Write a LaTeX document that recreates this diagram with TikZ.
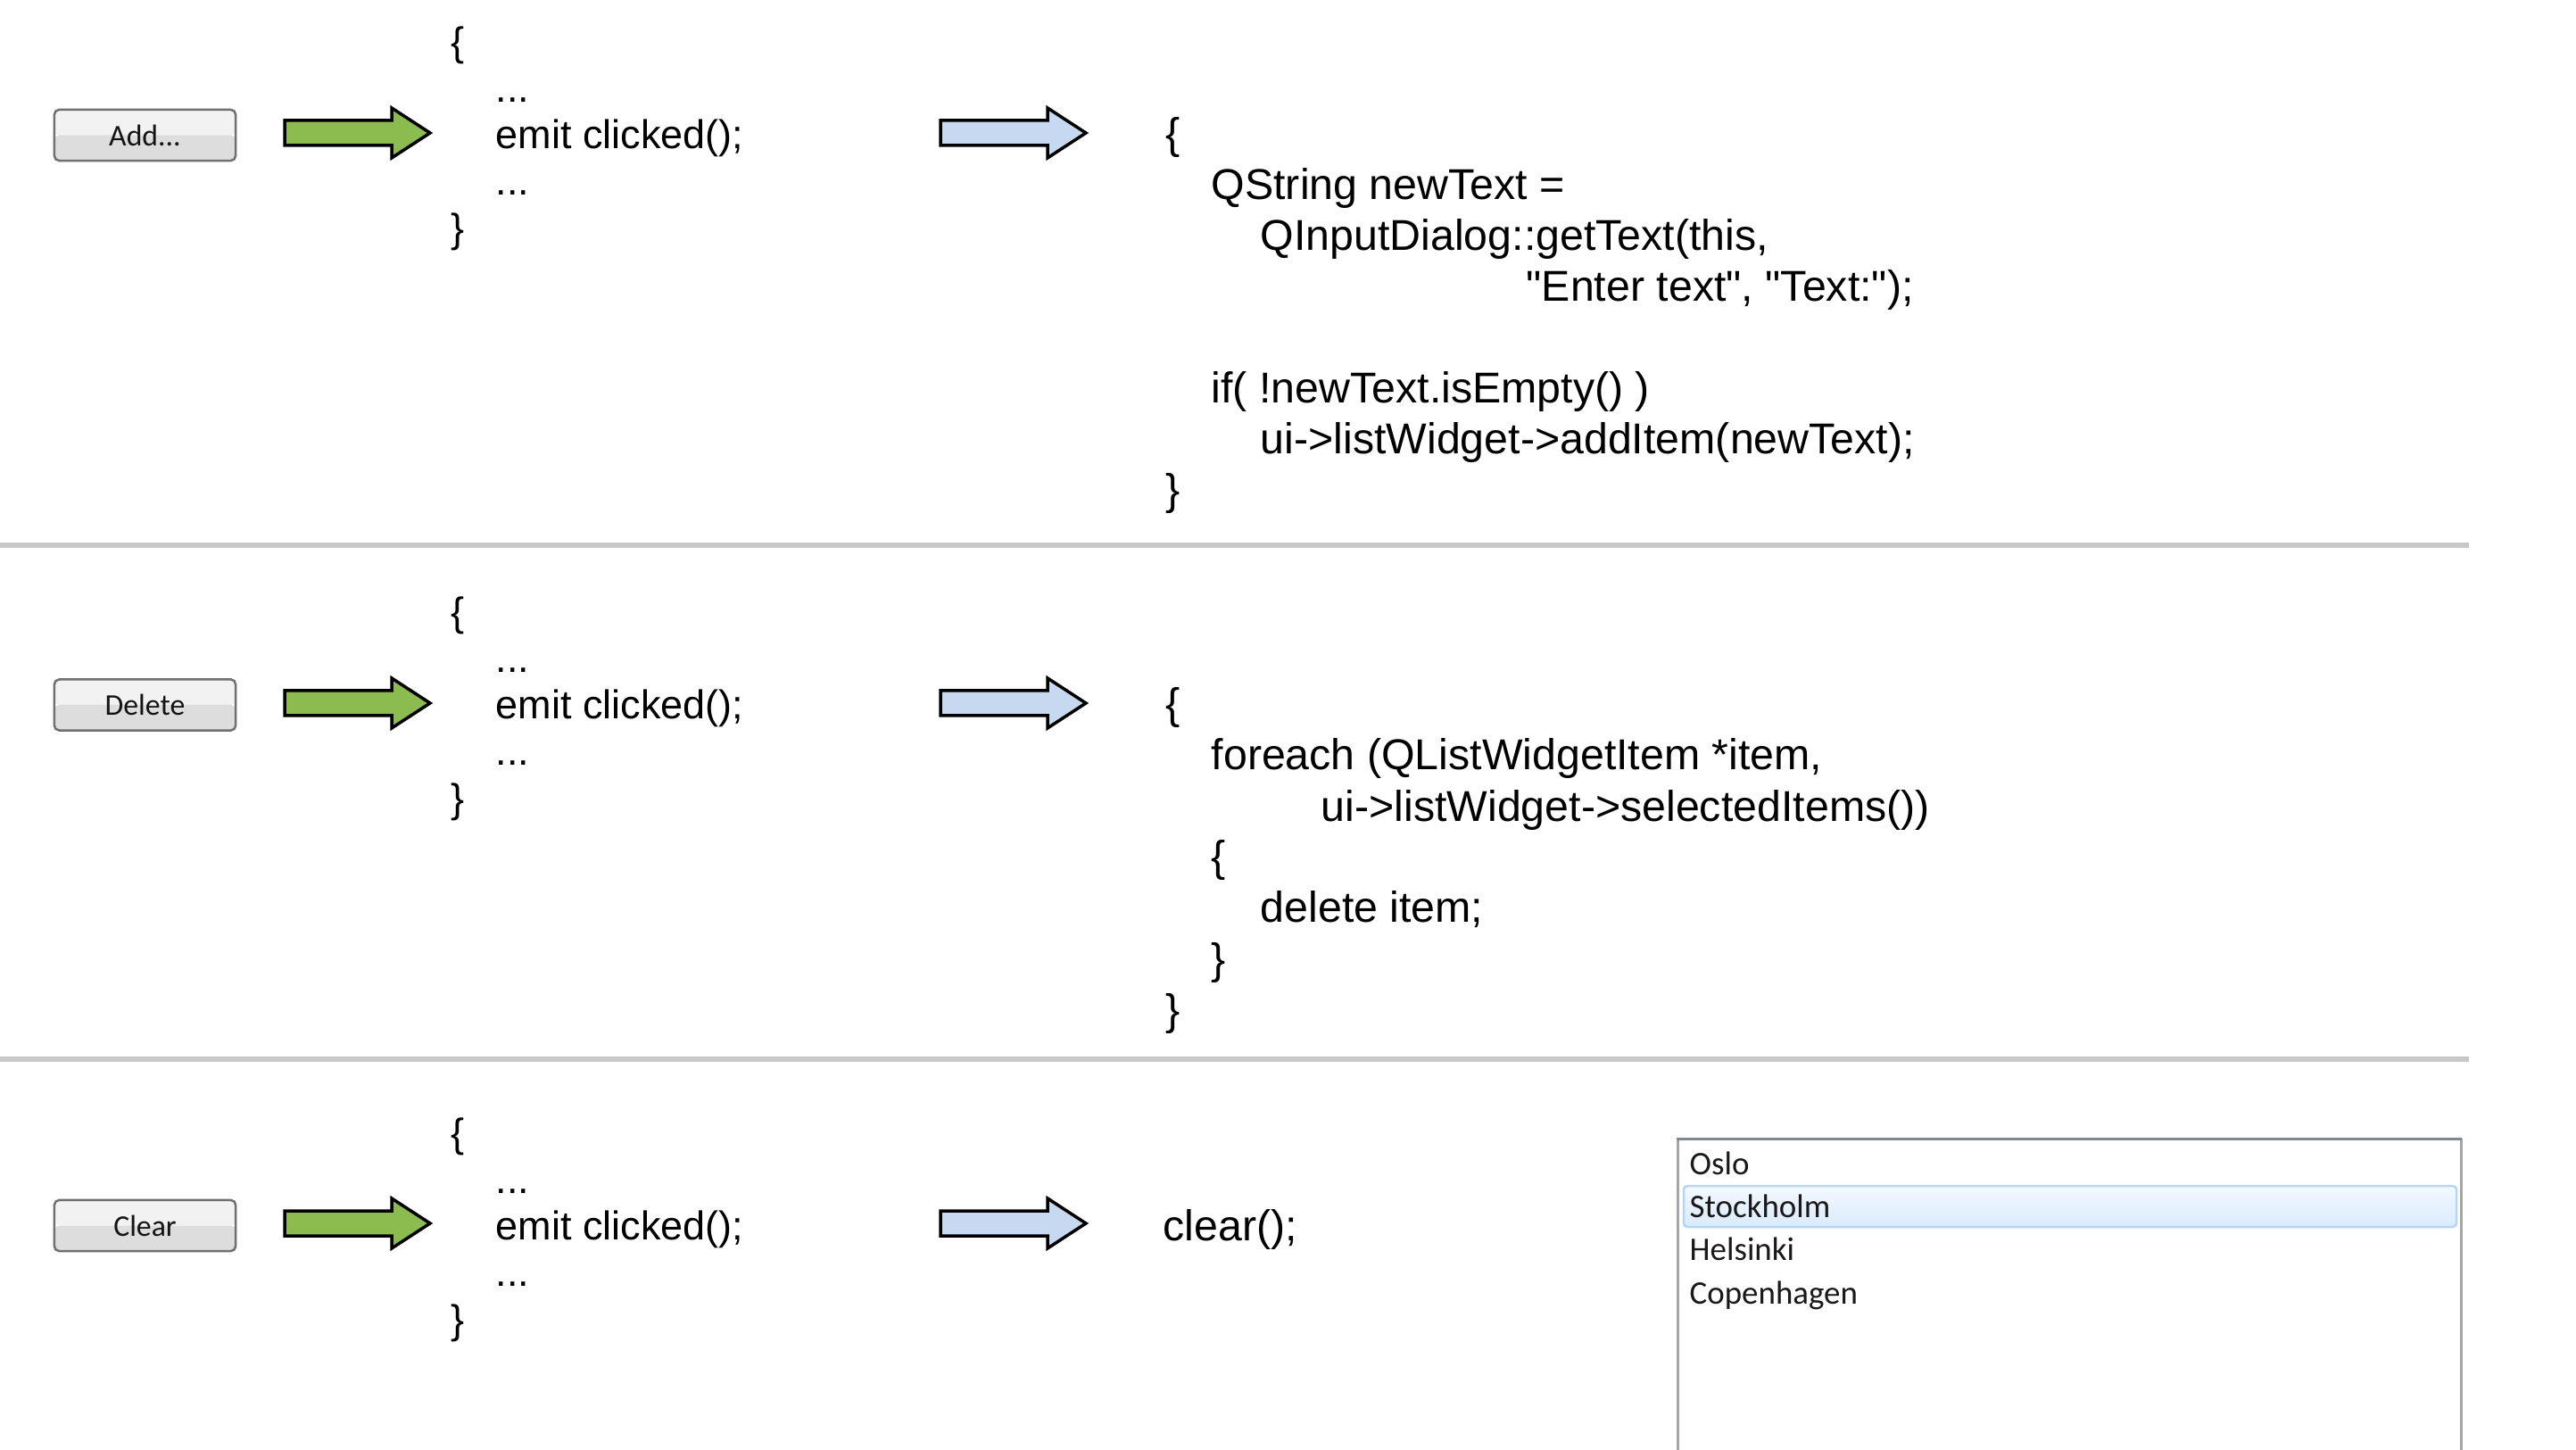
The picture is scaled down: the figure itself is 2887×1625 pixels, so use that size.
\documentclass[tikz,border=0pt]{standalone}
\usepackage{fontspec}
\setmainfont{Liberation Sans}
\newfontfamily\uifont{Carlito}
\definecolor{arrgreen}{RGB}{140,187,80}
\definecolor{arrblue}{RGB}{198,217,241}
\definecolor{btnborder}{RGB}{112,112,112}
\definecolor{btntop}{RGB}{242,242,242}
\definecolor{btnbot}{RGB}{221,221,221}
\definecolor{sepgray}{RGB}{200,200,200}
\definecolor{listtop}{RGB}{130,135,144}
\definecolor{listside}{RGB}{165,165,165}
\definecolor{selborder}{RGB}{180,215,245}
\definecolor{seltop}{RGB}{243,249,255}
\definecolor{selbot}{RGB}{218,234,252}
\newcommand\blockarrow[3]{%
  \draw[arrowline,fill=#3] (#1,#2-14) -- (#1+120,#2-14) -- (#1+120,#2-28)
    -- (#1+163,#2) -- (#1+120,#2+28) -- (#1+120,#2+14) -- (#1,#2+14) -- cycle;}
\newcommand\emitblock[3]{% name prefix, x, first baseline
  \node[codeL] (#1b1) at (#2,#3) {\{};
  \node[codeL] (#1d1) at (#2+50,#3+52) {...};
  \node[codeL] (#1em) at (#2+50,#3+104) {emit clicked();};
  \node[codeL] (#1d2) at (#2+50,#3+156) {...};
  \node[codeL] (#1b2) at (#2,#3+209) {\}};}
\newcommand\dq{\textquotedbl}
\begin{document}
\begin{tikzpicture}[x=0.01cm,y=-0.01cm,
  codeL/.style={anchor=base west,inner sep=0pt,font=\fontsize{12.8}{14.8}\selectfont},
  codeR/.style={anchor=base west,inner sep=0pt,font=\fontsize{13.74}{16}\selectfont},
  arrowline/.style={draw=black,line width=0.035cm,line join=miter},
  btn/.style={draw=btnborder,line width=0.025cm,rounded corners=1.5pt,
    minimum width=2.03cm,minimum height=0.57cm,inner sep=0pt,
    font=\uifont\fontsize{9.6}{11}\selectfont,text=black!92,
    path picture={\fill[btntop] (path picture bounding box.north west) rectangle (path picture bounding box.east);
      \fill[btnbot] (path picture bounding box.west) rectangle (path picture bounding box.south east);}},
  sep/.style={draw=sepgray,line width=0.06cm},
  listitem/.style={anchor=base west,inner sep=0pt,font=\uifont\fontsize{10.5}{12}\selectfont,text=black!90}]
\fill[white] (0,0) rectangle (2887,1625);
\useasboundingbox (0,0) rectangle (2887,1625);

% separators
\coordinate (s1a) at (0,611); \coordinate (s1b) at (2767,611);
\coordinate (s2a) at (0,1187); \coordinate (s2b) at (2767,1187);
\draw[sep] (s1a) -- (s1b);
\draw[sep] (s2a) -- (s2b);

% buttons
\node[btn] (add) at (162.5,151.5) {Add...};
\node[btn] (del) at (162.5,790) {Delete};
\node[btn] (clr) at (162.5,1373.5) {Clear};

% arrows
\blockarrow{319}{149}{arrgreen}
\blockarrow{319}{788}{arrgreen}
\blockarrow{319}{1371}{arrgreen}
\blockarrow{1054}{149}{arrblue}
\blockarrow{1054}{788}{arrblue}
\blockarrow{1054}{1371}{arrblue}

% left code blocks
\emitblock{a}{505}{63}
\emitblock{d}{505}{702}
\emitblock{c}{505}{1285}

% right code: section 1
\node[codeR] (r1a) at (1306,167) {\{};
\node[codeR] (r1b) at (1357,224) {QString newText =};
\node[codeR] (r1c) at (1412,281) {QInputDialog::getText(this,};
\node[codeR] (r1d) at (1710,338) {\dq Enter text\dq, \dq Text:\dq);};
\node[codeR] (r1e) at (1357,452) {if( !newText.isEmpty() )};
\node[codeR] (r1f) at (1412,509) {ui->listWidget->addItem(newText);};
\node[codeR] (r1g) at (1306,566) {\}};

% right code: section 2
\node[codeR] (r2a) at (1306,806) {\{};
\node[codeR] (r2b) at (1357,863) {foreach (QListWidgetItem *item,};
\node[codeR] (r2c) at (1480,920) {ui->listWidget->selectedItems())};
\node[codeR] (r2d) at (1357,977) {\{};
\node[codeR] (r2e) at (1412,1034) {delete item;};
\node[codeR] (r2f) at (1357,1091) {\}};
\node[codeR] (r2g) at (1306,1148) {\}};

% right code: section 3
\node[codeR] (r3a) at (1303,1390) {clear();};

% list widget
\fill[white] (1880,1276) rectangle (2758,1625);
\draw[listside,line width=0.03cm] (1880,1625) -- (1880,1276);
\draw[listside,line width=0.03cm] (2758,1625) -- (2758,1276);
\draw[listtop,line width=0.03cm] (1879,1276) -- (2759,1276);
\draw[selborder,line width=0.025cm,rounded corners=1.2pt,top color=seltop,bottom color=selbot]
  (1887,1329) rectangle (2753,1375);
\node[listitem] (l1) at (1893,1316) {Oslo};
\node[listitem] (l2) at (1893,1364) {Stockholm};
\node[listitem] (l3) at (1893,1412) {Helsinki};
\node[listitem] (l4) at (1893,1461) {Copenhagen};
\end{tikzpicture}
\end{document}
